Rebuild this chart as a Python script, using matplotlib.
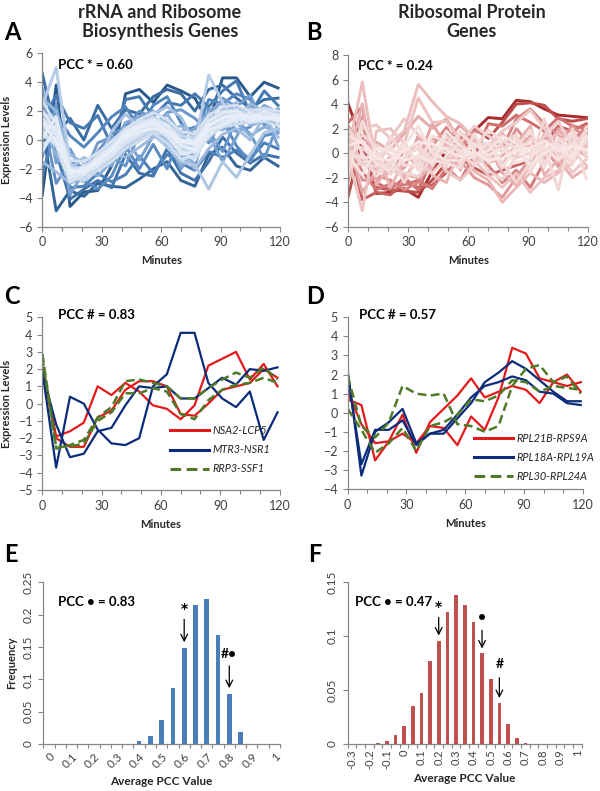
import matplotlib
matplotlib.use("Agg")
import matplotlib.pyplot as plt
from matplotlib.colors import LinearSegmentedColormap
import numpy as np

plt.rcParams['font.family'] = ['Lato', 'DejaVu Sans']

# ---------------- data ----------------
minutes = [0, 7, 14, 21, 28, 35, 42, 49, 56, 63, 70, 77, 84, 91, 98, 105, 112, 119]

# Panel A: rRNA and ribosome biosynthesis genes (dark -> light)
a_series = [
    [-3.8, 3.8, -4.6, -3.6, -3.5, -1.8, 3.2, 3.5, 2.6, 3.8, 3.4, 2.9, 1.2, 4.3, 4.3, 3.0, 4.0, 3.6],
    [0.9, -4.9, -3.5, -3.9, -3.0, -3.2, -3.3, -2.7, -2.0, -1.5, -2.8, -3.2, -1.0, -0.5, -1.8, -2.1, -1.2, -1.8],
    [4.6, 0.4, 1.5, 0.0, 2.4, 0.8, 2.1, 1.8, 3.0, 3.5, 3.2, 2.0, 3.5, 3.8, 2.9, 2.2, 2.8, 2.9],
    [2.6, -0.8, -4.1, -3.4, -2.8, -3.3, -1.0, -2.3, -2.5, -0.6, -2.3, -2.8, -1.5, 0.2, -0.9, -1.6, -1.0, -1.2],
    [1.3, 3.1, 1.2, 0.8, 1.7, -0.4, 2.8, 3.0, 1.6, 2.6, 2.4, 3.2, 2.3, 3.4, 4.1, 1.8, 3.4, 2.4],
    [-2.4, 1.0, -3.3, -3.2, -2.3, -2.9, -2.4, -1.1, -2.3, -1.0, -1.6, -2.1, -0.8, -1.2, -0.7, -1.3, -0.2, -0.6],
    [3.0, 1.8, 0.3, -0.5, 0.5, 1.6, 2.3, 0.8, 2.4, 3.0, 1.2, 0.3, 2.8, 2.5, 3.2, 2.8, 1.5, 2.1],
    [0.2, 0.6, -2.6, -2.8, -3.4, -2.5, -0.4, -2.0, -0.3, -2.0, 0.6, 0.9, -0.2, 1.4, -0.4, -1.5, 0.3, 0.5],
    [1.8, -3.0, -1.5, -1.9, -0.8, 0.4, 0.9, 2.0, 1.5, 0.7, -1.2, -1.0, 2.2, 1.0, 0.6, 0.9, 2.3, 0.8],
    [-1.2, 2.5, -2.9, -1.8, -1.5, -1.2, -1.8, 0.4, 0.8, 1.9, 2.1, 1.5, 0.6, -0.8, 1.4, 0.4, -1.3, 1.1],
    [3.6, -1.6, -0.6, -2.4, -0.2, 0.2, -0.8, 0.2, 1.2, 1.0, -0.3, -1.8, 1.5, 2.9, 2.3, 3.1, 1.0, 1.6],
    [0.5, 1.5, -3.8, -2.2, -1.2, -1.8, 0.4, -1.4, 0.3, 0.2, -2.0, -0.6, 0.4, -1.5, 0.2, 2.1, 1.8, -0.4],
    [2.2, 0.2, -2.2, -2.9, -1.9, -0.5, 1.2, 1.6, 2.0, 1.3, 0.2, 0.8, 2.0, 2.6, 2.0, 1.4, 2.4, 1.9],
    [-0.5, 0.8, -1.8, -2.0, -2.5, -1.5, -0.3, 0.1, 0.5, -0.4, -1.6, -1.3, 0.9, 0.7, 1.2, 0.3, 0.9, 0.6],
    [1.0, -1.0, -2.6, -2.4, -1.0, 0.0, 0.7, 1.2, 0.6, 1.8, 0.4, -0.8, 1.2, 1.8, 2.6, 1.0, 1.3, 2.2],
    [2.9, 2.0, -1.0, -1.6, -0.8, -1.0, 0.0, 1.0, 1.4, 0.5, 1.0, 0.2, 0.0, 2.2, 1.5, 2.5, 2.0, 1.2],
    [-1.5, -2.2, -3.0, -2.6, -2.0, -0.9, -1.2, -0.5, 0.2, 0.0, -0.8, -2.0, -0.6, 0.4, 0.8, 0.0, 1.6, 0.2],
    [1.6, 0.5, -2.0, -1.2, -1.7, 0.6, 1.8, 0.9, 1.8, 2.3, 1.6, -0.2, 1.8, 1.2, 1.9, 2.0, 1.4, 1.7],
    [0.4, 0.1, -2.8, -2.5, -2.0, -1.3, -0.5, 0.0, 0.4, -0.5, -1.5, -1.7, -3.4, -1.5, -2.6, -1.0, 0.5, 0.8],
    [2.4, 5.0, -1.6, -2.3, -1.2, -0.3, 0.6, 1.0, 1.5, 0.6, -0.5, -0.3, 4.5, 2.6, 1.2, 2.2, 1.9, 1.6],
    [0.8, 0.4, -2.4, -2.2, -1.6, -0.9, 0.1, 0.6, 1.1, 0.5, -0.6, -0.5, 0.8, 1.4, 1.7, 1.6, 1.7, 1.5],
    [1.4, 0.9, -2.1, -2.5, -1.4, -0.6, 0.4, 0.9, 1.3, 0.9, -0.2, -0.9, 1.1, 1.7, 1.9, 1.4, 1.9, 1.4],
    [0.3, -0.2, -2.7, -2.6, -1.9, -1.2, -0.3, 0.2, 0.7, 0.2, -0.9, -0.4, 0.5, 1.1, 1.4, 1.8, 1.5, 1.3],
    [1.9, 1.3, -1.9, -2.0, -1.1, -0.4, 0.5, 1.2, 1.6, 1.1, 0.3, 0.1, 1.4, 2.0, 2.1, 1.7, 2.1, 1.8],
    [-0.3, 0.2, -2.5, -2.8, -2.1, -1.5, -0.6, -0.1, 0.5, -0.2, -1.3, -1.1, 0.2, 0.9, 1.1, 1.2, 1.3, 1.0],
    [1.1, 0.7, -2.2, -1.8, -1.3, -0.7, 0.2, 0.8, 1.0, 0.7, -0.3, -0.2, 0.9, 1.5, 1.6, 1.5, 1.6, 1.6],
    [2.7, 1.1, -1.4, -1.5, -0.9, -0.1, 0.8, 1.4, 1.9, 1.4, 0.6, 0.4, 1.7, 2.3, 2.4, 2.0, 2.2, 2.0],
    [0.6, -0.4, -2.9, -2.4, -1.7, -1.1, -0.2, 0.4, 0.9, 0.3, -0.7, -1.4, 0.6, 1.2, 1.5, 1.3, 1.8, 1.2],
    [1.5, 0.3, -2.3, -2.1, -1.5, -0.8, 0.3, 0.7, 1.2, 0.8, -0.4, -0.6, 1.0, 1.6, 1.8, 1.6, 1.7, 1.5],
    [-0.8, 0.9, -2.6, -2.3, -1.8, -1.0, 0.0, 0.5, 1.0, 0.4, -1.0, -0.8, 0.3, 1.3, 1.3, 1.9, 1.4, 1.7],
    [2.0, 0.6, -2.0, -2.4, -1.2, -0.5, 0.6, 1.1, 1.4, 1.0, 0.0, -0.1, 1.3, 1.9, 2.0, 1.5, 2.0, 1.6],
    [0.1, 1.6, -2.4, -1.9, -1.6, -0.6, 0.2, 0.6, 0.8, 0.6, -0.4, -0.7, 0.7, 1.0, 1.6, 1.3, 1.5, 1.4],
    [1.2, -0.1, -2.1, -2.2, -1.4, -0.7, 0.4, 0.9, 1.2, 0.6, -0.1, -0.3, 1.0, 1.5, 1.7, 1.6, 1.6, 1.5],
]

# Panel B: ribosomal protein genes (dark -> light)
b_series = [
    [4.0, 0.8, -3.3, -3.2, -2.9, -3.6, -1.5, 0.2, 1.2, 1.8, 2.9, 2.8, 4.3, 4.2, 3.6, 3.1, 3.0, 2.9],
    [-3.5, 1.2, -2.8, -3.0, -3.1, -3.2, -2.2, -0.8, 0.5, 2.0, 1.2, 2.5, 4.0, 4.1, 3.9, 2.8, 2.6, 2.8],
    [1.0, -3.8, -3.2, -3.4, -2.4, -2.8, -2.6, -1.6, -0.4, -1.2, -1.8, -1.4, -1.0, -0.6, 0.8, 2.2, 1.8, 2.4],
    [2.5, 3.8, -2.4, -3.0, -2.0, -3.0, -0.5, 1.5, 1.5, -0.3, 2.4, 2.2, 3.1, 2.5, 1.8, 2.9, 2.2, 2.0],
    [0.5, -1.5, -3.0, -2.5, -2.6, -2.2, -2.9, -1.2, -2.2, -0.2, -1.0, -2.4, -1.4, -2.8, -0.7, 0.9, 1.4, 1.5],
    [-1.0, 2.4, -1.8, -2.2, -3.0, -2.4, 0.6, 2.1, 0.3, 1.8, 1.5, 0.4, 2.8, 3.6, 2.4, 1.5, 0.9, 2.2],
    [1.6, -2.2, -2.2, -1.5, 0.2, -1.2, 1.2, 1.0, 2.3, 1.1, -0.8, -0.3, 2.0, 0.6, 1.2, 0.5, 2.3, 1.0],
    [-2.2, 3.0, -0.8, -1.6, -1.2, 1.4, -0.4, -0.9, -0.6, -2.0, -2.6, -3.6, -2.0, -0.4, 0.4, -1.1, 0.8, -0.3],
    [0.8, -3.2, -1.4, -0.3, -2.0, -0.5, 2.4, 0.6, 1.6, 0.8, 0.2, 1.6, 0.3, 1.4, -0.6, 2.0, 0.4, 1.7],
    [2.2, 1.0, 0.9, 0.2, 1.6, 3.0, 2.0, 2.8, 1.0, -0.5, 0.5, -1.6, -2.6, -1.0, 1.6, -0.8, 1.2, 0.5],
    [-0.5, 4.0, -2.6, -1.0, -1.8, -2.0, -1.2, 0.8, -1.4, 1.2, 0.0, -1.0, 0.8, 2.2, -1.8, -0.5, -2.0, -1.2],
    [1.2, -0.6, 0.2, -2.8, -0.6, 0.8, -1.8, -2.4, 0.4, -1.5, -2.2, -4.0, -2.8, -1.6, -2.4, -1.6, -0.8, 0.8],
    [0.2, 5.8, -1.0, 0.8, 1.8, 5.6, 4.2, 3.0, 2.4, 1.2, 0.6, 0.2, 1.0, 0.4, 0.8, 1.6, 1.0, 0.6],
    [-0.4, -4.7, 1.8, 2.0, 0.8, 4.5, 2.5, 2.6, 1.0, -0.6, -1.8, -2.8, -1.6, -3.2, -2.0, -1.4, 0.2, -1.0],
    [0.8, 2.0, 2.3, 1.2, 2.8, 1.5, 0.2, -1.5, -2.2, -1.0, 0.5, 1.8, 2.5, 3.5, 2.0, 0.2, -1.6, -0.5],
    [-1.2, -0.8, -1.5, -0.5, 0.4, -0.8, -1.6, -0.4, 0.8, 2.2, 1.4, 0.6, -0.4, 0.0, 1.4, 2.6, 0.6, 1.8],
    [1.0, 0.4, -0.6, -1.2, -1.6, -1.9, -0.2, 0.5, -0.8, 0.2, -1.4, -2.2, -0.2, 1.2, 0.2, 1.0, 1.4, 0.0],
    [-0.6, 1.5, 0.6, -0.2, -2.4, -0.4, 0.9, -1.2, 1.6, 0.6, 0.8, -0.8, -2.4, -0.8, 2.8, -0.2, -0.6, 1.2],
    [0.4, -1.0, -1.1, 1.3, 0.0, 0.3, -1.0, 1.4, -0.2, -0.9, -0.4, 0.9, 1.5, -1.6, 0.5, -3.0, 2.0, -0.4],
    [2.0, 0.0, -1.9, -0.8, 1.0, -1.4, 0.4, 0.0, 1.8, 0.4, 1.9, 1.0, 0.4, 1.9, -0.8, 0.8, -1.0, 2.1],
    [-1.8, 2.6, 0.0, -1.8, -0.4, 0.6, -0.6, -0.8, -1.2, 1.6, -0.8, 0.0, 1.2, -0.2, 1.0, 0.4, 1.6, -2.1],
    [0.0, -0.4, -0.3, 0.6, -1.0, -1.0, 1.4, 0.9, 0.2, -0.4, 0.9, -1.2, 0.6, 0.8, -1.2, 1.2, 0.0, 0.9],
    [1.4, 0.8, -0.9, -1.4, 0.6, 2.2, 0.0, -0.6, -0.6, 0.8, -0.2, 0.4, -0.8, -0.4, 0.6, -0.6, 0.8, 0.2],
    [-0.2, -1.8, 0.4, 0.2, -0.6, -0.2, -0.8, 1.8, 0.6, -0.2, 0.2, 1.4, 0.8, -1.0, 0.0, 0.6, -0.4, 1.4],
    [0.6, 1.0, -0.4, -0.6, 0.2, 0.9, 0.7, 0.3, -0.3, 0.1, -0.6, -0.4, 0.2, 0.4, 1.0, 0.2, 0.5, 0.3],
]

# Panel C: gene pairs
c_labels = ["NSA2-LCP5", "MTR3-NSR1", "RRP3-SSF1"]
c_nsa2 = [2.2, -1.9, -1.6, -1.1, 1.0, 0.5, 1.2, 0.7, -0.1, -0.3, -0.9, -0.1, 2.2, 2.6, 3.0, 1.4, 2.3, 1.0]
c_lcp5 = [2.0, -2.0, -2.5, -2.5, -0.8, -0.4, 0.8, 1.3, 1.3, 1.0, -0.6, -0.7, 0.0, 0.8, 1.0, 1.2, 2.0, 1.5]
c_mtr3 = [1.9, -3.7, 0.4, 0.0, -1.5, -2.3, -2.4, -2.0, 1.0, 1.7, 4.1, 4.1, 1.2, 0.3, -0.2, 0.7, -2.1, -0.5]
c_nsr1 = [1.8, -1.2, -3.1, -2.9, -1.6, -1.4, -0.1, 1.0, 0.9, 1.0, 0.3, 0.3, 0.9, 1.5, 1.1, 2.0, 1.9, 2.1]
c_rrp3 = [2.9, -2.6, -2.4, -2.1, -0.8, -0.2, 1.3, 1.4, 1.2, 1.0, 0.3, 0.3, 0.9, 1.4, 1.8, 1.5, 2.1, 1.4]
c_ssf1 = [2.7, -2.5, -2.5, -2.3, -1.0, -0.5, 0.6, 0.6, 0.9, 0.7, -0.6, -0.9, 0.2, 0.8, 1.1, 1.2, 1.5, 1.2]

# Panel D: gene pairs
d_labels = ["RPL21B-RPS9A", "RPL18A-RPL19A", "RPL30-RPL24A"]
d_rpl21b = [0.7, 0.4, -2.5, -1.5, -0.1, -2.1, -0.5, 0.2, 0.9, 1.8, 0.8, 1.1, 1.4, 1.2, 0.5, 1.6, 2.0, 1.1]
d_rps9a = [1.1, -0.6, -1.6, -1.5, -1.1, -1.6, -0.7, -0.8, -1.7, -0.2, -0.9, 0.8, 3.4, 3.1, 1.8, 1.6, 1.4, 1.6]
d_rpl18a = [2.2, -3.3, -1.0, -0.5, 0.2, -1.6, -1.1, -1.1, -0.3, 0.5, 1.6, 2.1, 2.7, 2.3, 1.7, 1.1, 0.6, 0.6]
d_rpl19a = [2.0, -2.7, -0.9, -0.9, -0.4, -1.7, -1.1, -0.9, -0.1, 0.8, 1.4, 1.6, 1.9, 1.7, 1.1, 1.0, 0.5, 0.4]
d_rpl30 = [1.9, -0.7, -1.3, -0.5, 1.4, 1.0, 0.9, 1.0, -0.6, -0.7, -1.0, -0.7, 1.4, 2.3, 2.5, 1.6, 1.9, 1.0]
d_rpl24a = [0.2, -0.9, -2.1, -1.6, -0.8, -2.0, -0.7, -0.5, -0.1, 0.7, 0.6, 0.9, 1.7, 1.6, 1.1, 1.4, 1.3, 1.2]

# Panel E: histogram of average PCC (rRNA/RiBi)
e_bins = ["0", "0.05", "0.1", "0.15", "0.2", "0.25", "0.3", "0.35", "0.4", "0.45", "0.5",
          "0.55", "0.6", "0.65", "0.7", "0.75", "0.8", "0.85", "0.9", "0.95", "1"]
e_freq = [0, 0, 0, 0, 0, 0, 0, 0, 0.005, 0.013, 0.037, 0.086, 0.149, 0.215, 0.224,
          0.168, 0.078, 0.018, 0, 0, 0]

# Panel F: histogram of average PCC (RP)
f_bins = ["-0.3", "-0.25", "-0.2", "-0.15", "-0.1", "-0.05", "0", "0.05", "0.1", "0.15", "0.2",
          "0.25", "0.3", "0.35", "0.4", "0.45", "0.5", "0.55", "0.6", "0.65", "0.7", "0.75",
          "0.8", "0.85", "0.9", "0.95", "1"]
f_freq = [0, 0, 0, 0.001, 0.003, 0.008, 0.017, 0.035, 0.047, 0.077, 0.096, 0.122, 0.138,
          0.129, 0.113, 0.084, 0.060, 0.038, 0.019, 0.006, 0.001, 0, 0, 0, 0, 0, 0]

# ---------------- styling ----------------
SPINE = '#868686'
TICKC = '#404040'
LABC = '#262626'

fig = plt.figure(figsize=(6, 7.91), dpi=100)


def ax_at(l, t, r, b):
    return fig.add_axes([l / 600, 1 - b / 791, (r - l) / 600, (b - t) / 791])


def style(ax, size=9):
    for s in ['top', 'right']:
        ax.spines[s].set_visible(False)
    for s in ['left', 'bottom']:
        ax.spines[s].set_color(SPINE)
        ax.spines[s].set_linewidth(0.9)
    ax.tick_params(colors=SPINE, labelcolor=TICKC, labelsize=size, length=3.5, width=0.8, direction='out')
    ax.tick_params(which='minor', colors=SPINE, length=3, width=0.8, direction='out')


def time_axis(ax, ylim, yticks):
    ax.set_xlim(0, 120)
    ax.set_ylim(*ylim)
    ax.set_xticks([0, 30, 60, 90, 120])
    ax.set_xticks(list(range(0, 121, 10)), minor=True)
    ax.set_yticks(yticks)
    ax.set_xlabel('Minutes', fontsize=8, fontweight='bold', color=LABC, labelpad=5)
    style(ax)


def pcc_text(x, y, s):
    fig.text(x / 600, 1 - y / 791, s, fontsize=9.5, fontweight='bold', va='center', ha='left')


# Panel A
axA = ax_at(42.3, 53.3, 280, 226.7)
cmapA = LinearSegmentedColormap.from_list('a', ['#2a5a8a', '#4a7fba', '#86abd8', '#c6d7ec', '#e9eff8'])
n = len(a_series)
for i, s in enumerate(a_series):
    axA.plot(minutes, s, color=cmapA((i / (n - 1)) ** 0.75), lw=2.1)
time_axis(axA, (-6, 6), [-6, -4, -2, 0, 2, 4, 6])
axA.set_ylabel('Expression Levels', fontsize=8, fontweight='bold', color=LABC, labelpad=4)

# Panel B
axB = ax_at(348.3, 55, 588.3, 226.7)
cmapB = LinearSegmentedColormap.from_list('b', ['#a82c2c', '#cf6d6b', '#e5a6a5', '#f0cfce', '#f7e6e5'])
n = len(b_series)
for i, s in enumerate(b_series):
    axB.plot(minutes, s, color=cmapB((i / (n - 1)) ** 0.65), lw=2.1)
time_axis(axB, (-6, 8), [-6, -4, -2, 0, 2, 4, 6, 8])

# Panel C
RED = '#e31a1c'
NAVY = '#0b2c7a'
GREEN = '#4f7a28'
DASH = (0, (3.5, 1.8))


def legend(ax, x0, y0):
    leg = ax.legend(loc='lower left', bbox_to_anchor=(x0, y0), frameon=False,
                    prop={'style': 'italic', 'size': 7.8}, handlelength=3.6, labelspacing=0.75,
                    handletextpad=0.3, borderaxespad=0)
    for t in leg.get_texts():
        t.set_color(LABC)
    for h in leg.legend_handles:
        h.set_linewidth(2.2)


axC = ax_at(42.3, 317.3, 279.5, 490)
axC.plot(minutes, c_nsa2, color=RED, lw=1.6, label=c_labels[0])
axC.plot(minutes, c_lcp5, color=RED, lw=1.6)
axC.plot(minutes, c_mtr3, color=NAVY, lw=1.6, label=c_labels[1])
axC.plot(minutes, c_nsr1, color=NAVY, lw=1.6)
axC.plot(minutes, c_rrp3, color=GREEN, lw=1.8, ls=DASH, label=c_labels[2])
axC.plot(minutes, c_ssf1, color=GREEN, lw=1.8, ls=DASH)
time_axis(axC, (-5, 5), list(range(-5, 6)))
axC.set_ylabel('Expression Levels', fontsize=8, fontweight='bold', color=LABC, labelpad=4)
legend(axC, 0.52, 0.065)

# Panel D
axD = ax_at(347.7, 317.3, 582.7, 489)
axD.plot(minutes, d_rpl21b, color=RED, lw=1.6, label=d_labels[0])
axD.plot(minutes, d_rps9a, color=RED, lw=1.6)
axD.plot(minutes, d_rpl18a, color=NAVY, lw=1.6, label=d_labels[1])
axD.plot(minutes, d_rpl19a, color=NAVY, lw=1.6)
axD.plot(minutes, d_rpl30, color=GREEN, lw=1.8, ls=DASH, label=d_labels[2])
axD.plot(minutes, d_rpl24a, color=GREEN, lw=1.8, ls=DASH)
time_axis(axD, (-4, 5), list(range(-4, 6)))
legend(axD, 0.52, 0.015)


def hist_axis(ax, bins, freq, color, ylim, yticks, ylabels, rot):
    x = np.arange(len(bins))
    ax.bar(x, freq, width=0.42, color=color)
    ax.set_xlim(-0.5, len(bins) - 0.5)
    ax.set_ylim(*ylim)
    ax.set_yticks(yticks)
    ax.set_yticklabels(ylabels, rotation=90, va='center')
    ax.set_xticks(x[::2])
    if rot == 45:
        ax.set_xticklabels(bins[::2], rotation=45, ha='right', rotation_mode='anchor')
    else:
        ax.set_xticklabels(bins[::2], rotation=90, ha='center')
    ax.set_xticks(np.arange(len(bins) + 1) - 0.5, minor=True)
    style(ax, size=8.5)
    ax.tick_params(axis='x', which='major', length=0, pad=5)
    ax.set_xlabel('Average PCC Value', fontsize=8.5, fontweight='bold', color=LABC)


# Panel E
axE = ax_at(43.3, 582.3, 280, 744)
hist_axis(axE, e_bins, e_freq, '#4a7ebb', (0, 0.25), [0, 0.05, 0.1, 0.15, 0.2, 0.25],
          ['0', '0.05', '0.1', '0.15', '0.2', '0.25'], 45)
axE.set_ylabel('Frequency', fontsize=8, fontweight='bold', color=LABC, labelpad=4)
axE.xaxis.labelpad = 4

# Panel F
axF = ax_at(347.7, 582.3, 581.7, 744)
hist_axis(axF, f_bins, f_freq, '#c0504d', (0, 0.15), [0, 0.05, 0.1, 0.15],
          ['0', '0.05', '0.1', '0.15'], 90)
axF.tick_params(axis='x', which='major', labelsize=8, pad=4)
axF.xaxis.labelpad = 3


def mark(ax, i, top, ystart, sym, ysym, fs=10):
    ax.annotate('', xy=(i, top), xytext=(i, ystart),
                arrowprops=dict(arrowstyle='->', lw=0.9, color='black', mutation_scale=12))
    ax.text(i, ysym, sym, ha='center', va='center', fontsize=fs, fontweight='bold',
            family=['DejaVu Sans'] if sym == '*' else None)


mark(axE, e_bins.index("0.6"), e_freq[e_bins.index("0.6")] + 0.004, 0.197, '*', 0.208, 10)
mark(axE, e_bins.index("0.8"), e_freq[e_bins.index("0.8")] + 0.004, 0.125, '#•', 0.139)
mark(axF, f_bins.index("0.2"), f_freq[f_bins.index("0.2")] + 0.002, 0.120, '*', 0.127, 10)
mark(axF, f_bins.index("0.45"), f_freq[f_bins.index("0.45")] + 0.002, 0.108, '•', 0.118)
mark(axF, f_bins.index("0.55"), f_freq[f_bins.index("0.55")] + 0.002, 0.064, '#', 0.074)

# texts
pcc_text(58, 65, 'PCC * = 0.60')
pcc_text(358, 66, 'PCC * = 0.24')
pcc_text(58, 315, 'PCC # = 0.83')
pcc_text(359, 315, 'PCC # = 0.57')
pcc_text(58, 602, 'PCC • = 0.83')
pcc_text(355, 602, 'PCC • = 0.47')

fig.text(160 / 600, 1 - 22 / 791, 'rRNA and Ribosome\nBiosynthesis Genes', ha='center', va='center',
         fontsize=13, fontweight='bold', color=LABC, linespacing=1.1)
fig.text(472 / 600, 1 - 22 / 791, 'Ribosomal Protein\nGenes', ha='center', va='center',
         fontsize=13, fontweight='bold', color=LABC, linespacing=1.1)

for lab, x, y in [('A', 4, 32), ('B', 306, 32), ('C', 4, 296), ('D', 306, 296), ('E', 4, 554), ('F', 308, 554)]:
    fig.text(x / 600, 1 - y / 791, lab, fontsize=17, fontweight='bold', va='center', ha='left')

fig.savefig('out.png', dpi=100)
